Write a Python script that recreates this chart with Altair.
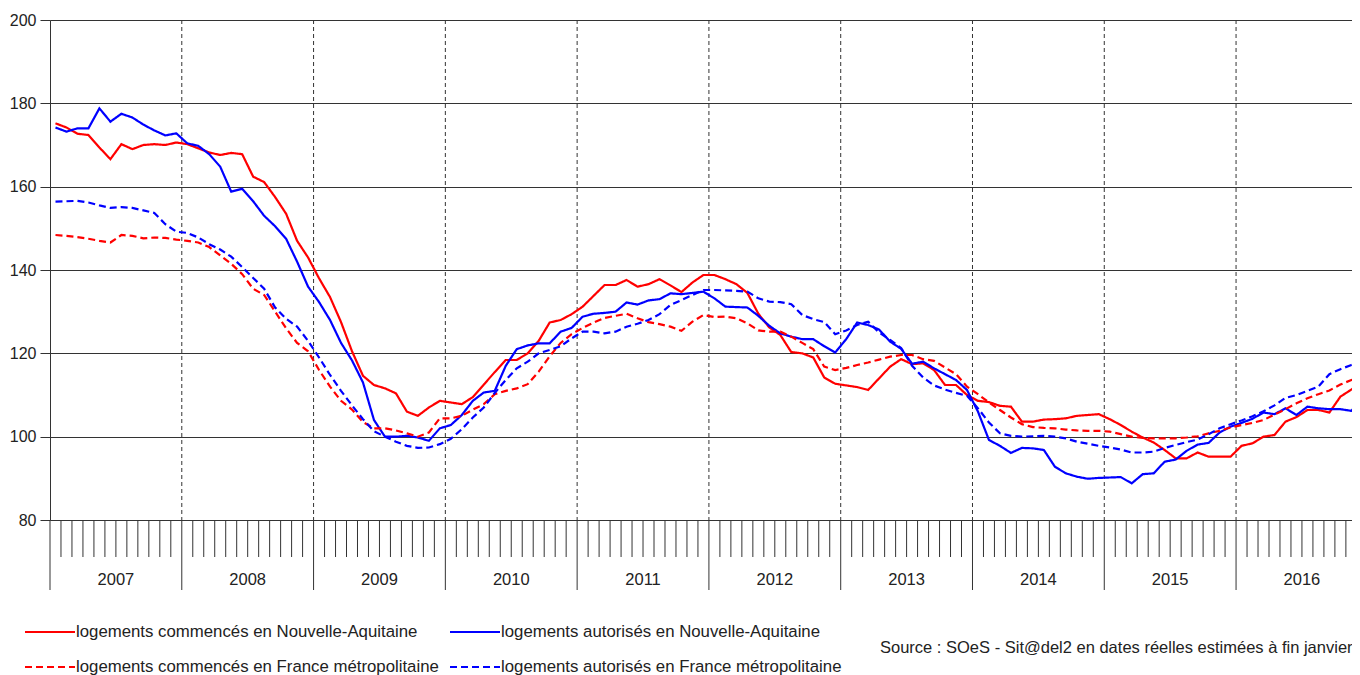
import altair as alt
import pandas as pd

# ---------------- data ----------------
years = list(range(2007, 2017))
n_months = 120
y_ticks = [80, 100, 120, 140, 160, 180, 200]

series_names = [
    "logements commencés en Nouvelle-Aquitaine",
    "logements autorisés en Nouvelle-Aquitaine",
    "logements commencés en France métropolitaine",
    "logements autorisés en France métropolitaine",
]
series_colors = ["#ff0000", "#0000ff", "#ff0000", "#0000ff"]
series_dash = [[1, 0], [1, 0], [7, 4], [7, 4]]

commences_na = [
    175.2, 174.2, 172.7, 172.4, 169.4, 166.6, 170.2, 169.0, 170.0, 170.2, 170.0, 170.6,
    170.2, 169.2, 168.2, 167.6, 168.1, 167.8, 162.4, 161.1, 157.5, 153.5, 147.0, 143.0,
    138.0, 133.5, 127.5, 120.5, 114.6, 112.4, 111.6, 110.4, 106.0, 105.0, 107.0, 108.6,
    108.2, 107.8, 109.5, 112.5, 115.5, 118.4, 118.4, 120.0, 123.0, 127.4, 128.0, 129.4,
    131.2, 133.8, 136.4, 136.4, 137.6, 136.0, 136.6, 137.8, 136.3, 134.7, 137.0, 138.8,
    138.8, 137.8, 136.6, 134.5, 129.5, 126.2, 124.4, 120.3, 120.0, 119.0, 114.2, 112.7,
    112.3, 111.9, 111.2, 114.0, 116.8, 118.6, 117.4, 117.6, 116.0, 112.4, 112.4, 110.0,
    108.6, 108.3, 107.4, 107.2, 103.6, 103.6, 104.1, 104.2, 104.4, 105.0, 105.2, 105.4,
    104.2, 102.8, 101.2, 99.8, 98.6, 96.8, 94.8, 94.8, 96.2, 95.2, 95.2, 95.2,
    97.8, 98.4, 100.0, 100.4, 103.6, 104.7, 106.4, 106.4, 105.8, 109.6, 111.3, 113.3,
]
autorises_na = [
    174.2, 173.2, 174.0, 174.0, 178.8, 175.6, 177.5, 176.6, 174.9, 173.5, 172.3, 172.8,
    170.4, 169.8, 167.8, 164.8, 158.8, 159.5, 156.5, 153.0, 150.5, 147.5, 142.0, 136.0,
    132.3, 128.0, 122.5, 118.3, 113.0, 104.0, 100.0, 100.0, 100.2, 99.8, 99.0, 102.0,
    102.8, 105.2, 108.6, 110.6, 111.0, 117.0, 121.0, 121.9, 122.4, 122.4, 125.2, 126.1,
    128.8, 129.5, 129.7, 130.0, 132.2, 131.7, 132.7, 133.0, 134.4, 134.2, 134.5, 134.8,
    133.2, 131.2, 131.1, 131.0, 129.0, 126.6, 124.8, 124.0, 123.4, 123.4, 121.7, 120.2,
    123.4, 127.4, 126.8, 125.7, 122.8, 121.1, 117.5, 118.0, 116.4, 115.0, 113.6, 111.2,
    106.0, 99.2, 97.8, 96.1, 97.3, 97.2, 96.8, 92.8, 91.2, 90.4, 89.9, 90.1,
    90.2, 90.3, 88.8, 91.0, 91.2, 94.0, 94.5, 96.6, 98.1, 98.5, 101.0, 102.4,
    103.3, 104.3, 105.8, 105.4, 106.8, 105.2, 107.2, 106.8, 106.6, 106.6, 106.2, 109.0,
]
commences_fr = [
    148.4, 148.2, 147.9, 147.5, 147.0, 146.6, 148.4, 148.2, 147.6, 147.8, 147.7, 147.3,
    147.0, 146.6, 145.5, 143.5, 141.5, 139.0, 135.5, 134.0, 130.0, 126.0, 122.5, 120.5,
    116.0, 112.0, 108.6, 106.5, 103.5, 102.0, 102.0, 101.5, 100.8, 100.0, 101.0, 104.4,
    104.4, 105.0, 106.5, 107.8, 110.2, 111.0, 111.6, 112.6, 115.6, 119.3, 122.5, 124.6,
    126.1, 127.4, 128.5, 129.0, 129.5, 128.4, 127.5, 127.0, 126.4, 125.4, 127.6, 129.2,
    128.7, 128.8, 128.4, 127.2, 125.5, 125.2, 125.2, 124.0, 122.5, 121.0, 116.8, 116.0,
    116.5, 117.2, 117.8, 118.5, 119.2, 119.6, 119.6, 118.6, 118.2, 116.6, 115.0, 112.0,
    110.2, 108.2, 106.4, 104.6, 103.0, 102.3, 102.1, 102.0, 101.7, 101.5, 101.4, 101.4,
    101.2, 100.6, 100.0, 99.7, 99.6, 99.6, 99.6, 99.8, 100.1, 100.8, 101.4, 102.2,
    102.8, 103.3, 104.0, 105.3, 106.6, 108.0, 109.2, 110.2, 111.1, 112.5, 113.6, 114.3,
]
autorises_fr = [
    156.4, 156.5, 156.6, 156.2, 155.5, 154.9, 155.1, 154.9, 154.3, 153.7, 151.0, 149.2,
    148.9, 147.8, 146.2, 144.9, 143.2, 140.7, 138.1, 135.5, 131.0, 128.3, 126.4, 123.0,
    119.0, 114.8, 111.0, 107.5, 104.2, 101.3, 100.0, 98.8, 97.8, 97.3, 97.4, 98.2,
    99.5, 101.8, 104.6, 107.0, 110.5, 113.6, 116.4, 118.0, 120.0, 120.8, 121.7, 123.6,
    125.2, 125.2, 124.8, 125.2, 126.4, 127.1, 128.0, 129.4, 131.6, 132.8, 134.0, 135.2,
    135.2, 135.1, 135.0, 134.8, 133.2, 132.4, 132.3, 131.8, 129.2, 128.2, 127.5, 124.6,
    125.5, 126.8, 127.6, 125.0, 123.2, 121.3, 117.0, 114.2, 112.3, 111.3, 110.5, 109.8,
    106.8, 103.4, 100.8, 100.2, 100.0, 100.1, 100.2, 100.0, 99.6, 98.8, 98.3, 97.8,
    97.4, 96.9, 96.2, 96.2, 96.4, 97.3, 98.0, 98.7, 99.3, 100.6, 102.0, 103.0,
    103.9, 104.9, 106.1, 107.5, 109.3, 110.0, 111.0, 112.0, 115.0, 116.2, 117.2, 118.0,
]

source_text = "Source : SOeS - Sit@del2 en dates réelles estimées à fin janvier"

# ---------------- tables ----------------
rows = []
for name, vals in zip(series_names, [commences_na, autorises_na, commences_fr, autorises_fr]):
    for i, v in enumerate(vals):
        rows.append({"t": i + 0.5, "value": v, "series": name})
df = pd.DataFrame(rows)

month_bounds = pd.DataFrame({"k": [k for k in range(1, n_months) if k % 12 != 0]})
year_bounds = pd.DataFrame({"k": [(y - years[0]) * 12 for y in years]})
year_bounds_inner = year_bounds[year_bounds["k"] > 0]
year_labels = pd.DataFrame({"k": [(y - years[0]) * 12 + 6 for y in years],
                            "label": [str(y) for y in years]})
source_df = pd.DataFrame({"s": [source_text]})

# ---------------- chart ----------------
FONT = "Liberation Sans"
INK = "#333333"
TXT = "#222222"
W, H = 1302, 500
MONTH_PX = 10.982
xscale = alt.Scale(domain=[0, W / MONTH_PX], nice=False, zero=False)

dotted = alt.Chart(year_bounds_inner).mark_rule(
    color=INK, strokeWidth=1, strokeDash=[4, 3]
).encode(x=alt.X("k:Q", scale=xscale, axis=None), y=alt.value(0), y2=alt.value(H))

month_ticks = alt.Chart(month_bounds).mark_rule(color=INK, strokeWidth=1).encode(
    x=alt.X("k:Q", scale=xscale, axis=None), y=alt.value(H), y2=alt.value(H + 37)
)

year_sep = alt.Chart(year_bounds).mark_rule(color=INK, strokeWidth=1).encode(
    x=alt.X("k:Q", scale=xscale, axis=None), y=alt.value(H), y2=alt.value(H + 70)
)

year_text = alt.Chart(year_labels).mark_text(
    font=FONT, fontSize=16.5, color=TXT, baseline="middle", align="center"
).encode(x=alt.X("k:Q", scale=xscale, axis=None), y=alt.value(H + 60), text="label:N")

lines = alt.Chart(df).mark_line(strokeWidth=2.2, clip=True).encode(
    x=alt.X("t:Q", scale=xscale, axis=None),
    y=alt.Y(
        "value:Q",
        scale=alt.Scale(domain=[80, 200], nice=False, zero=False),
        axis=alt.Axis(
            values=y_ticks, grid=True, gridColor=INK, gridOpacity=1, gridWidth=1,
            tickSize=10, tickColor=INK, domainColor=INK, domainWidth=1,
            labelFont=FONT, labelFontSize=16, labelColor=TXT, labelPadding=4,
            title=None,
        ),
    ),
    color=alt.Color("series:N", scale=alt.Scale(domain=series_names, range=series_colors), legend=None),
    strokeDash=alt.StrokeDash(
        "series:N", scale=alt.Scale(domain=series_names, range=series_dash), legend=None
    ),
)

# legend (two rows x two columns, below the axis)
leg_col_x = [-25, 400]
leg_row_y = [612, 647]
legend_layers = []
for idx, name in enumerate(series_names):
    lx = leg_col_x[idx % 2]
    ly = leg_row_y[idx // 2]
    item = pd.DataFrame({"series": [name]})
    legend_layers.append(
        alt.Chart(item).mark_rule(
            color=series_colors[idx], strokeWidth=2, strokeDash=series_dash[idx]
        ).encode(x=alt.value(lx), x2=alt.value(lx + 50), y=alt.value(ly))
    )
    legend_layers.append(
        alt.Chart(item).mark_text(
            font=FONT, fontSize=16.8, color=TXT, align="left", baseline="middle"
        ).encode(x=alt.value(lx + 51), y=alt.value(ly), text="series:N")
    )

source = alt.Chart(source_df).mark_text(
    font=FONT, fontSize=16.5, color=TXT, align="left", baseline="middle"
).encode(x=alt.value(830), y=alt.value(628), text="s:N")

chart = alt.layer(
    dotted, month_ticks, year_sep, year_text, lines, *legend_layers, source
).properties(
    width=W, height=H,
    autosize=alt.AutoSizeParams(type="none"),
    padding={"left": 42, "top": 12, "right": 0, "bottom": 170},
).configure_view(stroke=None).configure(font=FONT)

chart.save("out.html", embed_options={"renderer": "svg", "actions": False})
